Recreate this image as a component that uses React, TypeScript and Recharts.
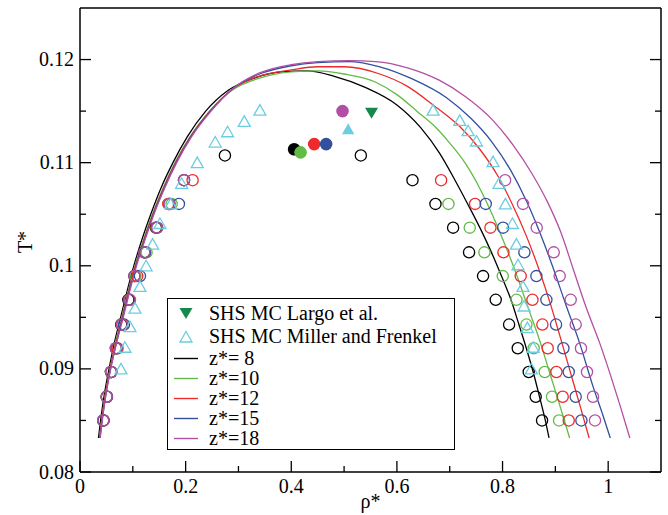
import React from 'react';
import { ComposedChart, XAxis, YAxis, Line, Scatter, Label } from 'recharts';

type Pt = [number, number];

// theory curves: [rho*, T*]
const curveZ8: Pt[] = [
  [0.035, 0.0833], [0.039, 0.085], [0.046, 0.0875], [0.055, 0.09], [0.065, 0.0925], [0.077, 0.095],
  [0.089, 0.0975], [0.102, 0.1], [0.117, 0.1025], [0.134, 0.105], [0.153, 0.1075], [0.176, 0.11],
  [0.203, 0.1125], [0.238, 0.115], [0.28, 0.117], [0.33, 0.1182], [0.38, 0.1188], [0.43, 0.1189],
  [0.48, 0.1184], [0.54, 0.1173], [0.6, 0.1156], [0.645, 0.1134], [0.681, 0.1109], [0.71, 0.1083],
  [0.735, 0.1059], [0.758, 0.1036], [0.779, 0.1013], [0.798, 0.099], [0.816, 0.0967], [0.831, 0.0943],
  [0.845, 0.092], [0.858, 0.0897], [0.87, 0.0873], [0.881, 0.085], [0.888, 0.0833],
];
const curveZ10: Pt[] = [
  [0.037, 0.0833], [0.041, 0.085], [0.048, 0.0875], [0.057, 0.09], [0.067, 0.0925], [0.079, 0.095],
  [0.091, 0.0975], [0.104, 0.1], [0.12, 0.1025], [0.137, 0.105], [0.157, 0.1075], [0.18, 0.11],
  [0.208, 0.1125], [0.245, 0.115], [0.29, 0.1171], [0.34, 0.1182], [0.4, 0.1188], [0.45, 0.1189],
  [0.5, 0.1186], [0.56, 0.1178], [0.6, 0.1166], [0.64, 0.1149], [0.67, 0.1136], [0.7, 0.1119],
  [0.73, 0.1099], [0.757, 0.1075], [0.782, 0.1048], [0.805, 0.102], [0.826, 0.0992], [0.85, 0.0957],
  [0.87, 0.0928], [0.89, 0.0895], [0.91, 0.0862], [0.927, 0.0833],
];
const curveZ12: Pt[] = [
  [0.037, 0.0833], [0.041, 0.085], [0.048, 0.0875], [0.057, 0.09], [0.068, 0.0925], [0.08, 0.095],
  [0.092, 0.0975], [0.105, 0.1], [0.121, 0.1025], [0.138, 0.105], [0.158, 0.1075], [0.181, 0.11],
  [0.209, 0.1125], [0.246, 0.115], [0.29, 0.1172], [0.34, 0.1184], [0.4, 0.119], [0.45, 0.1193],
  [0.5, 0.1193], [0.5676, 0.1186], [0.62, 0.1174], [0.6685, 0.1156], [0.719, 0.1135], [0.757, 0.1113],
  [0.79, 0.1088], [0.82, 0.1058], [0.845, 0.1029], [0.87, 0.0995], [0.89, 0.0964], [0.908, 0.0933],
  [0.93, 0.0894], [0.948, 0.0862], [0.964, 0.0833],
];
const curveZ15: Pt[] = [
  [0.038, 0.0833], [0.042, 0.085], [0.049, 0.0875], [0.058, 0.09], [0.069, 0.0925], [0.081, 0.095],
  [0.093, 0.0975], [0.106, 0.1], [0.122, 0.1025], [0.139, 0.105], [0.159, 0.1075], [0.182, 0.11],
  [0.21, 0.1125], [0.247, 0.115], [0.29, 0.1172], [0.34, 0.1186], [0.4, 0.1194], [0.45, 0.1197],
  [0.51, 0.1198], [0.5676, 0.1193], [0.63, 0.1181], [0.694, 0.1163], [0.74, 0.1143], [0.78, 0.112],
  [0.815, 0.1093], [0.845, 0.1063], [0.87, 0.1033], [0.895, 0.0999], [0.92, 0.0962], [0.946, 0.0925],
  [0.97, 0.0885], [0.99, 0.0855], [1.004, 0.0833],
];
const curveZ18: Pt[] = [
  [0.038, 0.0833], [0.042, 0.085], [0.049, 0.0875], [0.058, 0.09], [0.069, 0.0925], [0.082, 0.095],
  [0.094, 0.0975], [0.107, 0.1], [0.123, 0.1025], [0.14, 0.105], [0.16, 0.1075], [0.183, 0.11],
  [0.211, 0.1125], [0.248, 0.115], [0.29, 0.1172], [0.34, 0.1187], [0.4, 0.1195], [0.45, 0.1198],
  [0.51, 0.1199], [0.56, 0.1198], [0.62, 0.1192], [0.68, 0.118], [0.73, 0.1164], [0.78, 0.1142],
  [0.82, 0.1117], [0.855, 0.109], [0.885, 0.1062], [0.91, 0.1033], [0.935, 0.0995], [0.958, 0.096],
  [0.984, 0.0925], [1.005, 0.0893], [1.024, 0.0862], [1.041, 0.0833],
];

// simulation points (open circles), both branches
const simZ8: Pt[] = [
  [0.044, 0.085], [0.0505, 0.0873], [0.0587, 0.0897], [0.068, 0.092], [0.078, 0.0943], [0.0915, 0.0967],
  [0.103, 0.099], [0.1217, 0.1013], [0.1438, 0.1037], [0.169, 0.106], [0.197, 0.1083], [0.2744, 0.1107],
  [0.8748, 0.085], [0.8628, 0.0873], [0.8496, 0.0897], [0.8288, 0.092], [0.8124, 0.0943], [0.7871, 0.0967],
  [0.7631, 0.099], [0.7366, 0.1013], [0.7064, 0.1037], [0.673, 0.106], [0.6295, 0.1083], [0.5317, 0.1107],
];
const simZ10: Pt[] = [
  [0.044, 0.085], [0.0505, 0.0873], [0.0587, 0.0897], [0.068, 0.092], [0.08, 0.0943], [0.093, 0.0967],
  [0.105, 0.099], [0.126, 0.1013], [0.145, 0.1037], [0.1735, 0.106],
  [0.907, 0.085], [0.8937, 0.0873], [0.8799, 0.0897], [0.859, 0.092], [0.8452, 0.0943], [0.8263, 0.0967],
  [0.8004, 0.099], [0.7657, 0.1013], [0.7379, 0.1037], [0.6976, 0.106],
];
const simZ12: Pt[] = [
  [0.0445, 0.085], [0.051, 0.0873], [0.059, 0.0897], [0.071, 0.092], [0.08, 0.0943], [0.093, 0.0967],
  [0.1084, 0.099], [0.123, 0.1013], [0.145, 0.1037], [0.1671, 0.106], [0.2132, 0.1083],
  [0.9253, 0.085], [0.9139, 0.0873], [0.902, 0.0897], [0.8855, 0.092], [0.8754, 0.0943], [0.8566, 0.0967],
  [0.8344, 0.099], [0.8017, 0.1013], [0.7771, 0.1037], [0.748, 0.106], [0.6837, 0.1083],
];
const simZ15: Pt[] = [
  [0.0445, 0.085], [0.051, 0.0873], [0.059, 0.0897], [0.069, 0.092], [0.0833, 0.0943], [0.094, 0.0967],
  [0.1135, 0.099], [0.123, 0.1013], [0.146, 0.1037], [0.1873, 0.106],
  [0.9493, 0.085], [0.9385, 0.0873], [0.9253, 0.0897], [0.9152, 0.092], [0.9013, 0.0943], [0.883, 0.0967],
  [0.8641, 0.099], [0.8414, 0.1013], [0.801, 0.1037], [0.7682, 0.106],
];
const simZ18: Pt[] = [
  [0.044, 0.085], [0.0505, 0.0873], [0.0587, 0.0897], [0.068, 0.092], [0.0789, 0.0943], [0.0946, 0.0967],
  [0.1028, 0.099], [0.1217, 0.1013], [0.1463, 0.1037], [0.169, 0.106], [0.1968, 0.1083],
  [0.975, 0.085], [0.9713, 0.0873], [0.9599, 0.0897], [0.9485, 0.092], [0.9385, 0.0943], [0.929, 0.0967],
  [0.9082, 0.099], [0.8969, 0.1013], [0.8647, 0.1037], [0.8388, 0.106], [0.8048, 0.1083],
];

// critical points (filled circles), one per z*
const critZ8: Pt[] = [[0.4055, 0.1113]];
const critZ10: Pt[] = [[0.4176, 0.111]];
const critZ12: Pt[] = [[0.4434, 0.1118]];
const critZ15: Pt[] = [[0.466, 0.1118]];
const critZ18: Pt[] = [[0.497, 0.115]];

// SHS MC Miller and Frenkel (open triangles) + their critical point
const millerFrenkel: Pt[] = [
  [0.0776, 0.09], [0.0851, 0.0921], [0.0946, 0.0941], [0.1041, 0.0959], [0.1135, 0.098], [0.1252, 0.1],
  [0.1375, 0.1021], [0.1514, 0.1041], [0.1716, 0.106], [0.1924, 0.108], [0.222, 0.11], [0.256, 0.112],
  [0.2794, 0.113], [0.311, 0.114], [0.3406, 0.1151],
  [0.6685, 0.1151], [0.719, 0.1141], [0.7348, 0.1131], [0.7506, 0.1121], [0.782, 0.1101], [0.7934, 0.108],
  [0.8054, 0.106], [0.8187, 0.1041], [0.8262, 0.1021], [0.8293, 0.1001], [0.8388, 0.098], [0.8408, 0.0961],
  [0.847, 0.094], [0.8578, 0.0921], [0.8546, 0.09],
];
const millerFrenkelCrit: Pt[] = [[0.5077, 0.1133]];
// SHS MC Largo et al. critical point
const largoCrit: Pt[] = [[0.552, 0.1148]];

const xMajor = [0, 0.2, 0.4, 0.6, 0.8, 1];
const xMinor = [0.1, 0.3, 0.5, 0.7, 0.9];
const yMajor = [0.08, 0.09, 0.1, 0.11, 0.12];
const yMinor = [0.085, 0.095, 0.105, 0.115];

const zLabels = ['z*= 8', 'z*=10', 'z*=12', 'z*=15', 'z*=18'];
const zColors = ['#000000', '#62bb46', '#ee2a2a', '#33509f', '#b24fa4'];
const curves = [curveZ8, curveZ10, curveZ12, curveZ15, curveZ18];
const sims = [simZ8, simZ10, simZ12, simZ15, simZ18];
const crits = [critZ8, critZ10, critZ12, critZ15, critZ18];

const CYAN = '#6ccde0';
const DARK_GREEN = '#15894a';
const FONT = 'Liberation Serif, Tinos, DejaVu Serif, serif';
const TICK_FS = 20;

const toRows = (pts: Pt[]) => pts.map(([rho, T]) => ({ rho, T }));

const xTicks = [...xMajor, ...xMinor].sort((a, b) => a - b);
const yTicks = [...yMajor, ...yMinor].sort((a, b) => a - b);

const renderXTick = (props: any, side: 'bottom' | 'top') => {
  const { x, y, payload } = props;
  const major = xMajor.includes(payload.value);
  const len = major ? 11 : 6;
  const dir = side === 'bottom' ? -1 : 1;
  return (
    <g>
      <line x1={x} x2={x} y1={y} y2={y + dir * len} stroke="#000" strokeWidth={1.3} />
      {major && side === 'bottom' && (
        <text x={x} y={y + 21} textAnchor="middle" style={{ fontSize: TICK_FS, fontFamily: FONT }} fill="#000">
          {String(payload.value)}
        </text>
      )}
    </g>
  );
};

const renderYTick = (props: any, side: 'left' | 'right') => {
  const { x, y, payload } = props;
  const major = yMajor.includes(payload.value);
  const len = major ? 11 : 6;
  const dir = side === 'left' ? 1 : -1;
  return (
    <g>
      <line x1={x} x2={x + dir * len} y1={y} y2={y} stroke="#000" strokeWidth={1.3} />
      {major && side === 'left' && (
        <text x={x - 6} y={y + 6.5} textAnchor="end" style={{ fontSize: TICK_FS, fontFamily: FONT }} fill="#000">
          {String(payload.value)}
        </text>
      )}
    </g>
  );
};

const OpenCircle = (color: string) => (p: any) => (
  <circle cx={p.cx} cy={p.cy} r={5.6} fill="none" stroke={color} strokeWidth={1.3} />
);
const FilledCircle = (color: string) => (p: any) => (
  <circle cx={p.cx} cy={p.cy} r={6.3} fill={color} stroke="none" />
);
const Triangle = (p: any) => (
  <path
    d={`M${p.cx - 6},${p.cy + 5} L${p.cx + 6},${p.cy + 5} L${p.cx},${p.cy - 5.5} Z`}
    fill="none"
    stroke={CYAN}
    strokeWidth={1.3}
  />
);
const FilledTriangle = (p: any) => (
  <path d={`M${p.cx - 6.2},${p.cy + 5.5} L${p.cx + 6.2},${p.cy + 5.5} L${p.cx},${p.cy - 5.5} Z`} fill={CYAN} />
);
const DownTriangle = (p: any) => (
  <path d={`M${p.cx - 6.5},${p.cy - 5.5} L${p.cx + 6.5},${p.cy - 5.5} L${p.cx},${p.cy + 5.5} Z`} fill={DARK_GREEN} />
);

const legendRowY = [15, 38, 59.5, 79.5, 99.5, 119.5, 139.5];

const LegendBox = () => (
  <div
    style={{
      position: 'absolute', left: 167, top: 298, width: 288, height: 152, boxSizing: 'border-box',
      border: '1.5px solid #000', background: '#fff', fontFamily: FONT, fontSize: 20, color: '#000',
    }}
  >
    {['SHS MC Largo et al.', 'SHS MC Miller and Frenkel', ...zLabels].map((label, i) => (
      <div key={label} style={{ position: 'absolute', left: 0, top: legendRowY[i] - 10, height: 19, width: 284 }}>
        <svg width={36} height={19} style={{ position: 'absolute', left: 0, top: 0 }}>
          {i === 0 && <path d="M11.5,4 L24.5,4 L18,15 Z" fill={DARK_GREEN} />}
          {i === 1 && <path d="M12,15 L24,15 L18,4.5 Z" fill="none" stroke={CYAN} strokeWidth={1.3} />}
          {i >= 2 && <line x1={6} x2={30} y1={9.5} y2={9.5} stroke={zColors[i - 2]} strokeWidth={1.4} />}
        </svg>
        <span
          style={{
            position: 'absolute', display: 'block', left: 41, top: 0, height: 19, lineHeight: '19px',
            whiteSpace: 'nowrap',
          }}
        >
          {label}
        </span>
      </div>
    ))}
  </div>
);

export default function App() {
  return (
    <div style={{ position: 'absolute', left: 0, top: 0, width: 668, height: 515, background: '#fff' }}>
      <ComposedChart width={668} height={515} margin={{ top: 0, right: 0, bottom: 0, left: 0 }}>
        <XAxis
          xAxisId="bottom"
          dataKey="rho"
          type="number"
          domain={[0, 1.1]}
          allowDataOverflow
          ticks={xTicks}
          interval={0}
          height={43}
          tickSize={0}
          tickMargin={0}
          axisLine={{ stroke: '#000', strokeWidth: 1.5 }}
          tick={(p: any) => renderXTick(p, 'bottom')}
        >
          <Label
            content={(p: any) => {
              const vb = p.viewBox;
              return (
                <text x={vb.x + vb.width / 2} y={vb.y + 36} textAnchor="middle" style={{ fontSize: TICK_FS, fontFamily: FONT }}>
                  ρ*
                </text>
              );
            }}
          />
        </XAxis>
        <XAxis
          xAxisId="top"
          orientation="top"
          type="number"
          domain={[0, 1.1]}
          allowDataOverflow
          ticks={xTicks}
          interval={0}
          height={8}
          tickSize={0}
          tickMargin={0}
          axisLine={{ stroke: '#000', strokeWidth: 1.5 }}
          tick={(p: any) => renderXTick(p, 'top')}
        />
        <YAxis
          yAxisId="left"
          dataKey="T"
          type="number"
          domain={[0.08, 0.125]}
          allowDataOverflow
          ticks={yTicks}
          interval={0}
          width={80}
          tickSize={0}
          tickMargin={0}
          axisLine={{ stroke: '#000', strokeWidth: 1.5 }}
          tick={(p: any) => renderYTick(p, 'left')}
        >
          <Label
            content={(p: any) => {
              const vb = p.viewBox;
              const cx = vb.x + 32;
              const cy = vb.y + vb.height / 2 + 2;
              return (
                <text x={cx} y={cy} textAnchor="middle" style={{ fontSize: TICK_FS, fontFamily: FONT }} transform={`rotate(-90 ${cx} ${cy})`}>
                  T*
                </text>
              );
            }}
          />
        </YAxis>
        <YAxis
          yAxisId="right"
          orientation="right"
          type="number"
          domain={[0.08, 0.125]}
          allowDataOverflow
          ticks={yTicks}
          interval={0}
          width={7}
          tickSize={0}
          tickMargin={0}
          axisLine={{ stroke: '#000', strokeWidth: 1.5 }}
          tick={(p: any) => renderYTick(p, 'right')}
        />

        {curves.map((c, i) => (
          <Line
            key={`curve-${i}`}
            xAxisId="bottom"
            yAxisId="left"
            data={toRows(c)}
            dataKey="T"
            type="monotone"
            stroke={zColors[i]}
            strokeWidth={1.3}
            dot={false}
            activeDot={false}
            isAnimationActive={false}
          />
        ))}

        {sims.map((s, i) => (
          <Scatter
            key={`sim-${i}`}
            xAxisId="bottom"
            yAxisId="left"
            data={toRows(s)}
            dataKey="T"
            shape={OpenCircle(zColors[i])}
            isAnimationActive={false}
          />
        ))}

        <Scatter xAxisId="bottom" yAxisId="left" data={toRows(millerFrenkel)} dataKey="T" shape={Triangle} isAnimationActive={false} />

        {crits.map((c, i) => (
          <Scatter
            key={`crit-${i}`}
            xAxisId="bottom"
            yAxisId="left"
            data={toRows(c)}
            dataKey="T"
            shape={FilledCircle(zColors[i])}
            isAnimationActive={false}
          />
        ))}

        <Scatter xAxisId="bottom" yAxisId="left" data={toRows(millerFrenkelCrit)} dataKey="T" shape={FilledTriangle} isAnimationActive={false} />
        <Scatter xAxisId="bottom" yAxisId="left" data={toRows(largoCrit)} dataKey="T" shape={DownTriangle} isAnimationActive={false} />
      </ComposedChart>
      <LegendBox />
    </div>
  );
}
